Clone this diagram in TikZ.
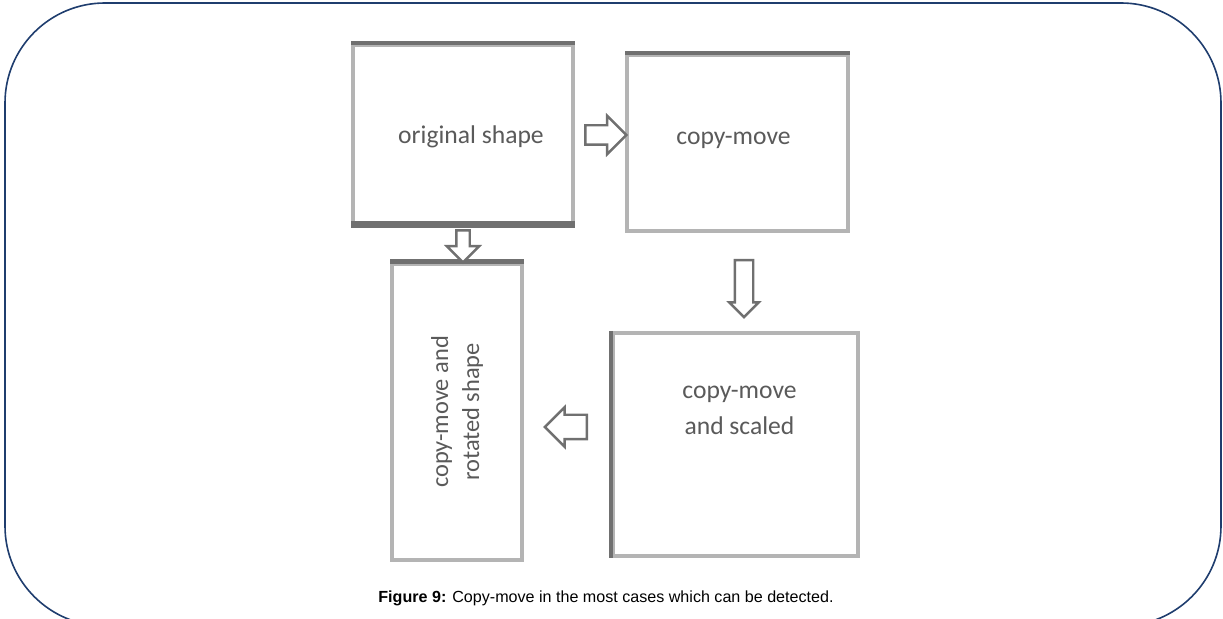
\documentclass[tikz,border=0pt]{standalone}
\usepackage{fontspec}
\setmainfont{Liberation Sans}
\newfontfamily\boxfont{Carlito}
\usetikzlibrary{shapes.arrows}
\definecolor{framecol}{HTML}{1F3D6E}
\definecolor{edgelight}{HTML}{B4B4B4}
\definecolor{edgedark}{HTML}{707070}
\definecolor{textgray}{HTML}{5A5A5A}
\begin{document}
\begin{tikzpicture}[x=0.5pt,y=-0.5pt,
  shapebox/.style={draw=edgelight,line width=2pt,fill=white,inner sep=0pt},
  boxtext/.style={font=\boxfont\fontsize{12.8}{18}\selectfont,text=textgray,align=center,inner sep=0pt},
  darkedge/.style={draw=edgedark,line cap=butt},
  blockarrow/.style={single arrow,draw=edgedark,fill=white,line width=1.2pt,minimum width=0pt}]
\useasboundingbox (0,0) rectangle (1223,619);
\clip (0,0) rectangle (1223,619);
% outer frame
\draw[framecol,line width=0.8pt,rounded corners=50pt] (5,3) rectangle (1221,626);
% the four shapes
\node[shapebox,minimum width=110pt,minimum height=89pt] (orig) at (463,134) {};
\node[boxtext] at ([xshift=4pt,yshift=-1.5pt]orig.center) {original shape};
\node[shapebox,minimum width=110.5pt,minimum height=88pt] (copy) at (737.5,143) {};
\node[boxtext] at ([xshift=-2pt,yshift=1.5pt]copy.center) {copy-move};
\node[shapebox,minimum width=122.5pt,minimum height=111.5pt] (scaled) at (735.5,444.5) {};
\node[boxtext] at ([xshift=2pt,yshift=17pt]scaled.center) {copy-move\\and scaled};
\node[shapebox,minimum width=65pt,minimum height=148pt] (rot) at (457,412) {};
\node[boxtext,font=\boxfont\fontsize{12.2}{15.5}\selectfont,rotate=90] at (rot.center) {copy-move and\\rotated shape};
% darker edges
\draw[darkedge,line width=3.5pt] (orig.south west) -- (orig.south east);
\draw[darkedge,line width=1.6pt] (orig.north west) -- (orig.north east);
\draw[darkedge,line width=1.6pt] (copy.north west) -- (copy.north east);
\draw[darkedge,line width=1.6pt] (scaled.north west) -- (scaled.south west);
\draw[darkedge,line width=2.5pt] (rot.north west) -- (rot.north east);
% block arrows
\node[blockarrow,minimum height=20.5pt,inner sep=4.25pt,single arrow head extend=4.75pt] (a1) at (601,135) {};
\node[blockarrow,shape border rotate=270,minimum height=16pt,inner sep=2.75pt,single arrow head extend=4.75pt] (a2) at (463,243) {};
\node[blockarrow,shape border rotate=270,minimum height=28.5pt,inner sep=4pt,single arrow head extend=2.75pt] (a3) at (744,284) {};
\node[blockarrow,shape border rotate=180,minimum height=21pt,inner sep=5.5pt,single arrow head extend=3.75pt] (a4) at (572,427) {};
% caption
\node[font=\fontsize{8.05}{9.5}\selectfont] (caption) at (606,598) {\textbf{Figure 9:} Copy-move in the most cases which can be detected.};
\end{tikzpicture}
\end{document}
